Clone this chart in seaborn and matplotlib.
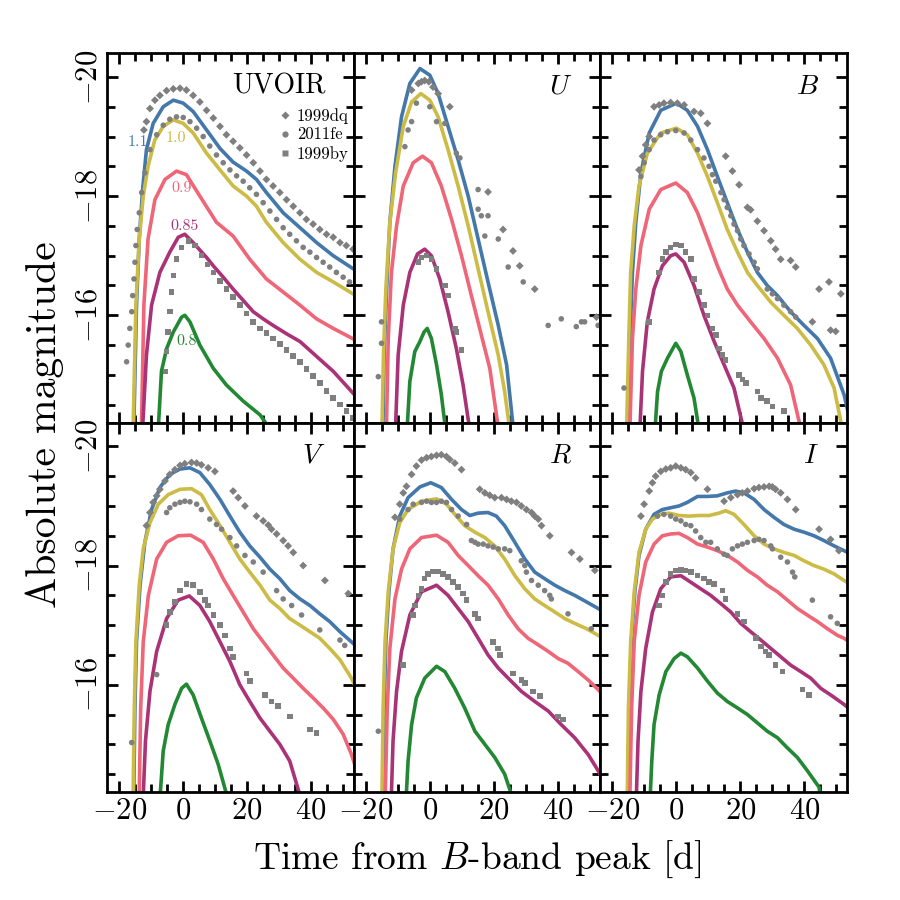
import matplotlib
matplotlib.use("Agg")
import matplotlib.pyplot as plt
import pandas as pd
import seaborn as sns
from matplotlib.ticker import MultipleLocator
from matplotlib.lines import Line2D

# ---------------- model light curves (day, absolute magnitude) ----------------
UVOIR_11 = [(-15.5,-14.0),(-14.6,-16.17),(-13.75,-17.28),(-12.7,-18.11),(-11.5,-18.78),(-9.4,-19.22),(-6.25,-19.5),(-3.1,-19.61),(0,-19.56),(3.1,-19.42),(7.3,-19.11),(11.5,-18.8),(15.6,-18.57),(19.8,-18.42),(22.9,-18.28),(26,-18.06),(31.25,-17.72),(36.5,-17.47),(41.7,-17.22),(46.9,-17.0),(54,-16.75)]
UVOIR_10 = [(-15.7,-14.0),(-14.8,-16.17),(-13.75,-17.28),(-12.5,-18.0),(-11,-18.5),(-8.9,-18.94),(-6.25,-19.17),(-3.1,-19.28),(0,-19.22),(3.1,-19.06),(7.3,-18.72),(11.5,-18.44),(15.6,-18.17),(19.8,-18.0),(22.9,-17.83),(26,-17.56),(31.25,-17.22),(36.5,-16.94),(41.7,-16.72),(46.9,-16.56),(54,-16.33)]
UVOIR_09 = [(-13.1,-14.0),(-12.3,-16.17),(-11,-17.28),(-8.85,-17.94),(-5.7,-18.28),(-2.1,-18.42),(1.0,-18.36),(5.2,-18.0),(10.4,-17.56),(15.6,-17.33),(20.8,-16.94),(26,-16.61),(31.25,-16.39),(36.5,-16.17),(41.7,-15.94),(46.9,-15.78),(54,-15.58)]
UVOIR_085 = [(-12.8,-14.0),(-11.5,-15.33),(-9.9,-16.17),(-7.3,-16.72),(-4.2,-17.06),(-1.56,-17.31),(0.5,-17.36),(3.1,-17.22),(7.3,-16.97),(9.4,-16.83),(12.5,-16.64),(15.6,-16.44),(18.75,-16.25),(21.9,-16.06),(25,-15.94),(28.1,-15.83),(32.3,-15.69),(36.5,-15.56),(41.7,-15.31),(46.9,-15.06),(54,-14.64)]
UVOIR_08 = [(-7.9,-14.0),(-6.8,-15.06),(-5.2,-15.44),(-3.1,-15.72),(-0.5,-15.97),(0.5,-16.0),(2.1,-15.89),(5.2,-15.5),(9.4,-15.11),(13.5,-14.83),(18.75,-14.56),(24,-14.33),(27,-14.1),(28,-14.0)]

U_11 = [(-14.7,-14.0),(-14.3,-15.33),(-13.5,-16.44),(-12.5,-17.56),(-10.9,-18.5),(-8.85,-19.33),(-6.25,-19.89),(-3.1,-20.14),(0,-20.03),(2.6,-19.72),(5.7,-19.17),(8.85,-18.61),(12,-18.0),(15.1,-17.28),(18.2,-16.56),(21.4,-15.83),(24,-15.17),(26.3,-14.0)]
U_10 = [(-15.0,-14.0),(-14.5,-15.33),(-13.75,-16.44),(-12.5,-17.56),(-10.7,-18.39),(-8.3,-19.17),(-5.7,-19.58),(-2.8,-19.72),(0,-19.61),(2.6,-19.33),(5.7,-18.78),(8.85,-18.17),(12,-17.5),(15.1,-16.78),(18.2,-16.06),(21.4,-15.33),(23.4,-14.72),(25.2,-14.0)]
U_09 = [(-13.6,-14.0),(-13,-15.61),(-12,-16.72),(-10.4,-17.5),(-8.3,-18.17),(-5.2,-18.56),(-2.3,-18.67),(0.5,-18.56),(3.6,-18.17),(6.8,-17.61),(9.9,-17.0),(13,-16.33),(16.1,-15.67),(18.75,-15.11),(21.7,-14.0)]
U_085 = [(-10.8,-14.0),(-9.9,-15.33),(-8.3,-16.17),(-6.25,-16.72),(-3.85,-17.03),(-1.6,-17.11),(0.5,-17.0),(3.1,-16.61),(5.7,-16.06),(8.3,-15.44),(10.4,-14.83),(12.7,-14.0)]
U_08 = [(-7.2,-14.0),(-6.25,-14.89),(-4.7,-15.39),(-3.1,-15.56),(-1.8,-15.72),(-0.8,-15.78),(0.5,-15.61),(2.1,-15.17),(3.6,-14.67),(5.1,-14.0)]

B_11 = [(-15.2,-14.0),(-14.5,-15.61),(-13.75,-16.72),(-12.7,-17.56),(-11.1,-18.39),(-8.5,-19.06),(-4.9,-19.44),(0,-19.56),(3.4,-19.44),(6.6,-19.17),(9.7,-18.78),(12.8,-18.33),(15.9,-17.89),(19.1,-17.44),(22.2,-17.06),(25.3,-16.72),(28.4,-16.5),(31.6,-16.33),(35.7,-16.06),(39.9,-15.83),(44.1,-15.61),(48.2,-15.28),(52.4,-14.67),(54,-14.3)]
B_10 = [(-15.6,-14.0),(-14.9,-15.61),(-14.3,-16.72),(-13.2,-17.5),(-11.7,-18.17),(-9.1,-18.72),(-4.9,-19.06),(0,-19.14),(3.4,-19.03),(6.6,-18.72),(9.7,-18.33),(12.8,-17.89),(15.9,-17.44),(19.1,-17.06),(22.2,-16.72),(25.3,-16.5),(29.5,-16.22),(33.6,-16.0),(37.8,-15.78),(42,-15.5),(46.1,-15.17),(49.3,-14.78),(52.2,-14.0)]
B_09 = [(-14.6,-14.0),(-13.75,-15.61),(-12.7,-16.44),(-11.1,-17.17),(-8.5,-17.78),(-4.9,-18.11),(-0.2,-18.22),(3.4,-18.06),(6.6,-17.72),(9.7,-17.28),(12.8,-16.83),(15.9,-16.44),(19.1,-16.17),(23.2,-15.89),(27.4,-15.61),(31.6,-15.28),(35.7,-14.83),(39.3,-14.0)]
B_085 = [(-11.5,-14.0),(-10.6,-15.06),(-9.1,-15.89),(-7.0,-16.44),(-4.4,-16.83),(-1.8,-17.0),(-0.2,-17.03),(2.4,-16.89),(5.5,-16.5),(8.6,-16.0),(11.8,-15.56),(14.9,-15.17),(18,-14.78),(21.4,-14.0)]
B_08 = [(-6.8,-14.0),(-5.9,-14.72),(-4.7,-15.06),(-2.8,-15.28),(-0.2,-15.53),(1.4,-15.39),(3.4,-15.0),(5.5,-14.61),(7.3,-14.0)]

V_11 = [(-15.5,-14.0),(-15.1,-15.61),(-14.6,-16.72),(-13.5,-17.67),(-12.0,-18.39),(-9.9,-18.94),(-7.3,-19.31),(-4.2,-19.53),(-1.0,-19.62),(2.1,-19.64),(5.2,-19.56),(8.3,-19.36),(11.5,-19.11),(14.6,-18.83),(17.7,-18.56),(20.8,-18.33),(24,-18.14),(27.1,-17.94),(30.2,-17.78),(33.3,-17.58),(36.5,-17.44),(39.6,-17.33),(42.7,-17.19),(45.8,-17.06),(49,-16.89),(52.6,-16.72),(54,-16.65)]
V_10 = [(-15.7,-14.0),(-15.3,-15.61),(-14.8,-16.72),(-13.75,-17.67),(-12.5,-18.28),(-10.4,-18.72),(-7.8,-19.03),(-4.7,-19.19),(-1.0,-19.28),(2.6,-19.29),(5.7,-19.19),(8.3,-18.94),(11.5,-18.67),(14.6,-18.39),(17.7,-18.11),(20.8,-17.89),(24,-17.67),(27.1,-17.42),(30.2,-17.28),(33.3,-17.11),(36.5,-17.0),(39.6,-16.89),(42.7,-16.78),(45.8,-16.61),(49,-16.42),(52.6,-16.11),(54,-15.95)]
V_09 = [(-13.8,-14.0),(-13.3,-15.61),(-12.5,-16.72),(-10.9,-17.5),(-8.3,-18.11),(-5.2,-18.39),(-1.6,-18.5),(2.3,-18.51),(6.25,-18.39),(9.4,-18.11),(12.5,-17.78),(15.6,-17.5),(18.75,-17.22),(21.9,-16.94),(25,-16.72),(28.1,-16.5),(31.25,-16.28),(34.4,-16.11),(37.5,-15.94),(40.6,-15.78),(43.75,-15.61),(46.9,-15.42),(50,-15.17),(52.6,-14.83),(54,-14.6)]
V_085 = [(-12.6,-14.0),(-11.8,-15.06),(-10.4,-15.89),(-8.3,-16.56),(-5.2,-17.11),(-1.6,-17.42),(1.9,-17.49),(5.2,-17.33),(8.3,-17.06),(11.5,-16.72),(14.6,-16.39),(17.7,-16.0),(20.8,-15.72),(24,-15.44),(27.1,-15.22),(30.2,-15.0),(33.3,-14.72),(37.3,-14.0)]
V_08 = [(-7.4,-14.0),(-6.25,-14.89),(-4.7,-15.33),(-2.6,-15.67),(-0.5,-15.94),(1.0,-16.01),(3.1,-15.83),(5.7,-15.44),(8.3,-15.06),(10.9,-14.67),(14.4,-14.0)]

R_11 = [(-14.7,-14.0),(-14.3,-15.61),(-13.75,-16.72),(-12.8,-17.56),(-11.5,-18.28),(-9.4,-18.83),(-6.8,-19.14),(-3.1,-19.32),(0.3,-19.39),(3.6,-19.31),(6.8,-19.11),(9.9,-18.94),(12.5,-18.84),(15.1,-18.88),(18.2,-18.89),(20.8,-18.83),(23.4,-18.67),(26.6,-18.39),(29.7,-18.11),(32.8,-17.89),(35.9,-17.78),(39.1,-17.67),(42.2,-17.58),(45.3,-17.5),(49,-17.39),(52.6,-17.28),(54,-17.24)]
R_10 = [(-15.0,-14.0),(-14.6,-15.61),(-14.0,-16.72),(-13,-17.56),(-11.5,-18.28),(-9.4,-18.72),(-6.8,-18.94),(-2.6,-19.08),(2.1,-19.12),(5.2,-19.03),(8.3,-18.83),(10.9,-18.67),(14.1,-18.56),(17.2,-18.47),(20.3,-18.33),(23.4,-18.11),(26.6,-17.83),(29.7,-17.61),(32.8,-17.44),(35.9,-17.33),(39.1,-17.22),(42.2,-17.11),(45.3,-17.03),(49,-16.94),(52.6,-16.83),(54,-16.79)]
R_09 = [(-14.0,-14.0),(-13.3,-15.61),(-12.5,-16.61),(-10.9,-17.44),(-8.85,-17.94),(-6.25,-18.28),(-2.6,-18.47),(2.1,-18.51),(5.7,-18.39),(8.85,-18.17),(12,-18.0),(15.1,-17.83),(18.2,-17.67),(21.4,-17.44),(24.5,-17.17),(27.6,-16.94),(30.7,-16.78),(33.9,-16.67),(37,-16.56),(40.1,-16.44),(43.2,-16.36),(46.4,-16.22),(49.5,-16.08),(52.6,-15.92),(54,-15.84)]
R_085 = [(-12.1,-14.0),(-11.5,-15.06),(-10.4,-15.89),(-8.85,-16.56),(-6.25,-17.17),(-2.6,-17.56),(2.1,-17.67),(5.7,-17.5),(8.85,-17.28),(12,-17.06),(15.1,-16.78),(18.2,-16.5),(21.4,-16.28),(24.5,-16.11),(28.6,-15.89),(32.8,-15.72),(37,-15.56),(41.1,-15.33),(45.3,-15.11),(49.5,-14.83),(52.6,-14.56),(54,-14.42)]
R_08 = [(-7.5,-14.0),(-6.8,-14.72),(-5.7,-15.33),(-4.2,-15.78),(-1.6,-16.11),(2.1,-16.31),(4.7,-16.22),(7.8,-15.94),(10.9,-15.61),(14.1,-15.22),(17.2,-15.0),(20.3,-14.78),(23.4,-14.5),(26.5,-14.0)]

I_11 = [(-15.2,-14.0),(-14.8,-15.61),(-14.1,-16.72),(-13,-17.56),(-11.7,-18.17),(-9.6,-18.61),(-7.0,-18.86),(-4.4,-18.94),(-1.8,-18.97),(0.8,-19.0),(3.4,-19.06),(6.6,-19.16),(9.7,-19.16),(12.8,-19.17),(15.9,-19.22),(18.5,-19.25),(21.1,-19.22),(24.3,-19.11),(27.4,-18.94),(30.5,-18.81),(33.6,-18.69),(36.8,-18.61),(39.9,-18.56),(43,-18.5),(46.1,-18.42),(49.3,-18.33),(52.4,-18.25),(54,-18.21)]
I_10 = [(-15.4,-14.0),(-15.0,-15.61),(-14.3,-16.72),(-13.2,-17.56),(-11.7,-18.22),(-9.6,-18.61),(-7.5,-18.78),(-4.9,-18.86),(-2.3,-18.88),(0.8,-18.84),(4.0,-18.83),(7.1,-18.84),(10.2,-18.84),(13.3,-18.88),(15.4,-18.92),(18,-18.86),(21.1,-18.69),(24.3,-18.5),(27.4,-18.36),(30.5,-18.28),(33.6,-18.22),(36.8,-18.17),(39.9,-18.08),(43,-18.0),(46.1,-17.94),(49.3,-17.86),(52.4,-17.75),(54,-17.7)]
I_09 = [(-14.6,-14.0),(-14.0,-15.61),(-13.2,-16.72),(-11.7,-17.5),(-9.6,-18.06),(-7.0,-18.36),(-4.4,-18.5),(-1.8,-18.53),(0.8,-18.54),(3.4,-18.47),(6.6,-18.36),(9.7,-18.31),(12.8,-18.25),(15.9,-18.17),(19.1,-18.06),(22.2,-17.92),(25.3,-17.81),(28.4,-17.67),(31.6,-17.56),(34.7,-17.42),(37.8,-17.28),(40.9,-17.17),(44.1,-17.06),(47.2,-16.94),(50.3,-16.83),(52.4,-16.78),(54,-16.72)]
I_085 = [(-12.6,-14.0),(-12,-15.06),(-11.1,-15.89),(-9.6,-16.61),(-7.5,-17.22),(-4.9,-17.61),(-1.8,-17.81),(1.4,-17.83),(4.5,-17.72),(7.6,-17.61),(10.7,-17.5),(13.9,-17.36),(17,-17.22),(20.1,-17.03),(23.2,-16.89),(26.4,-16.75),(29.5,-16.61),(32.6,-16.47),(35.7,-16.33),(38.9,-16.22),(42,-16.11),(45.1,-15.94),(48.2,-15.83),(52.4,-15.67),(54,-15.6)]
I_08 = [(-8.3,-14.0),(-7.7,-14.72),(-7.0,-15.33),(-5.4,-15.83),(-3.3,-16.22),(-0.7,-16.44),(1.4,-16.53),(3.4,-16.47),(6.6,-16.28),(9.7,-16.06),(12.8,-15.86),(15.9,-15.72),(19.1,-15.61),(22.2,-15.5),(25.3,-15.36),(28.4,-15.22),(31.6,-15.11),(34.7,-14.94),(37.8,-14.78),(40.9,-14.56),(44.6,-14.28),(45.3,-14.0)]

# ---------------- observed SNe (day, absolute magnitude) ----------------
UVOIR_DQ = [(-12.3,-19.11),(-11.5,-19.25),(-10.4,-19.47),(-8.85,-19.61),(-7.3,-19.69),(-5.2,-19.77),(-3.1,-19.8),(-1.0,-19.81),(1.0,-19.78),(3.1,-19.69),(5.2,-19.58),(7.3,-19.44),(9.4,-19.31),(11.5,-19.17),(13.5,-19.03),(15.6,-18.92),(17.7,-18.81),(19.8,-18.69),(21.9,-18.56),(24.0,-18.42),(26.0,-18.28),(28.1,-18.17),(30.2,-18.06),(32.3,-17.94),(34.4,-17.83),(36.5,-17.72),(38.5,-17.61),(40.6,-17.53),(42.7,-17.44),(44.8,-17.36),(46.9,-17.31),(49.0,-17.22),(51.0,-17.17),(53.1,-17.11)]
UVOIR_FE = [(-17.7,-15.22),(-17.2,-15.5),(-16.7,-15.78),(-16.1,-16.06),(-15.8,-16.33),(-15.4,-16.61),(-15.1,-16.89),(-14.8,-17.17),(-14.4,-17.44),(-13.75,-17.72),(-13.0,-18.06),(-12.0,-18.39),(-10.4,-18.78),(-8.3,-19.03),(-6.25,-19.19),(-4.2,-19.29),(-2.1,-19.33),(0.0,-19.32),(2.1,-19.25),(4.2,-19.14),(6.25,-19.0),(8.3,-18.84),(10.4,-18.69),(12.5,-18.56),(14.6,-18.44),(16.7,-18.34),(18.75,-18.25),(20.8,-18.14),(22.9,-18.03),(25.0,-17.89),(27.1,-17.75),(29.2,-17.61),(31.25,-17.47),(33.3,-17.36),(35.4,-17.25),(37.5,-17.14),(39.6,-17.06),(41.7,-16.97),(43.75,-16.89),(45.8,-16.81),(47.9,-16.72),(50.0,-16.64),(52.0,-16.56)]
UVOIR_BY = [(-5.5,-15.06),(-5.2,-15.39),(-4.7,-15.72),(-4.2,-16.06),(-3.6,-16.39),(-3.1,-16.67),(-2.1,-16.94),(-0.5,-17.14),(1.6,-17.25),(3.6,-17.17),(5.7,-17.0),(7.6,-16.85),(9.4,-16.72),(11.5,-16.58),(13.5,-16.44),(15.6,-16.31),(17.7,-16.17),(19.8,-16.03),(21.9,-15.89),(24.0,-15.78),(26.0,-15.7),(28.1,-15.61),(30.2,-15.52),(32.3,-15.42),(34.4,-15.32),(36.5,-15.22),(38.5,-15.1),(40.6,-14.98),(42.7,-14.86),(44.8,-14.73),(46.9,-14.61),(49.0,-14.5),(51.0,-14.39),(53.1,-14.28)]

U_DQ = [(-5.7,-19.78),(-3.6,-19.89),(-2.6,-19.92),(-1.6,-19.94),(-0.3,-19.92),(1.0,-19.83),(2.6,-19.72),(6.25,-19.5),(18.2,-18.07),(22.9,-17.44),(26.0,-17.08),(28.1,-16.83),(32.8,-16.44),(52.1,-15.97)]
U_FE = [(-16.1,-14.97),(-15.1,-15.53),(-15.1,-15.89),(-7.8,-18.83),(-6.8,-19.11),(-5.7,-19.25),(-4.2,-19.56),(0,-19.5),(2.1,-19.25),(4.7,-19.22),(8.3,-18.72),(9.4,-18.64),(15.1,-18.11),(15.1,-17.78),(16.1,-17.67),(18.2,-17.67),(17.2,-17.33),(21.4,-17.28),(24.5,-16.81),(29.2,-16.56),(37.0,-15.83),(41.1,-15.94),(45.8,-15.81),(47.4,-15.89),(48.4,-15.89),(52.6,-15.83)]
U_BY = [(-3.6,-16.89),(-2.6,-16.97),(-1.0,-17.0),(0.5,-16.94),(2.1,-16.78),(4.7,-16.5),(5.7,-16.33),(7.8,-15.78),(8.3,-15.72),(9.9,-15.42)]

B_DQ = [(-11.7,-18.44),(-10.6,-18.67),(-9.6,-18.86),(-8.5,-19.0),(-7.0,-19.5),(-5.4,-19.53),(-3.9,-19.56),(-1.8,-19.57),(0.3,-19.56),(2.4,-19.53),(5.5,-19.42),(7.6,-19.39),(9.7,-19.22),(15.4,-18.67),(17.5,-18.42),(19.6,-18.19),(22.2,-17.81),(23.2,-17.77),(25.3,-17.58),(27.4,-17.42),(29.5,-17.25),(31.0,-17.11),(32.6,-16.94),(35.7,-16.92),(37.3,-16.81),(42.5,-15.89),(44.6,-16.44),(47.7,-16.56),(48.2,-15.75),(49.8,-15.73),(51.4,-16.36)]
B_FE = [(-16.4,-14.78),(-11.1,-18.33),(-10.1,-18.56),(-8.5,-18.78),(-7.0,-18.94),(-4.9,-19.03),(-2.8,-19.08),(-0.2,-19.1),(2.4,-19.06),(4.5,-18.94),(6.6,-18.78),(8.6,-18.64),(10.2,-18.5),(11.25,-18.36),(12.3,-18.25),(13.9,-18.06),(14.9,-17.94),(15.9,-17.81),(17.0,-17.67),(18.0,-17.53),(19.1,-17.42),(20.1,-17.28),(21.1,-17.17),(22.7,-17.03),(24.3,-16.89),(25.3,-16.78),(28.4,-16.44),(30.0,-16.36),(31.6,-16.28),(33.6,-16.17),(35.7,-16.06),(37.3,-15.97)]
B_BY = [(-8.5,-15.89),(-5.4,-16.72),(-4.4,-16.94),(-3.3,-17.06),(-1.8,-17.14),(-0.2,-17.19),(1.4,-17.17),(2.9,-17.06),(4.5,-16.94),(5.5,-16.61),(7.1,-16.39),(8.6,-16.17),(9.7,-16.0),(11.25,-15.78),(12.3,-15.67),(13.3,-15.44),(14.4,-15.33),(15.4,-15.25),(19.6,-15.0),(20.6,-14.92),(21.7,-14.86),(25.3,-14.72),(26.4,-14.61),(28.4,-14.56),(30.0,-14.47),(33.6,-14.39)]

V_DQ = [(-11.5,-18.67),(-10.4,-18.89),(-9.4,-19.06),(-8.3,-19.17),(-7.3,-19.28),(-5.7,-19.42),(-4.2,-19.53),(-2.6,-19.61),(-1.0,-19.68),(0.5,-19.71),(2.6,-19.73),(4.2,-19.72),(5.7,-19.69),(7.8,-19.64),(9.9,-19.58),(15.6,-19.25),(17.2,-19.14),(19.3,-19.0),(22.9,-18.83),(25.0,-18.75),(26.6,-18.68),(27.6,-18.61),(29.2,-18.53),(31.25,-18.42),(32.8,-18.33),(34.4,-18.22),(37.5,-18.0),(44.3,-17.75),(51.6,-17.53)]
V_FE = [(-16.1,-15.03),(-8.3,-16.17),(-5.2,-18.89),(-4.2,-18.97),(-2.6,-19.03),(-1.0,-19.06),(0.5,-19.08),(2.1,-19.07),(4.2,-19.03),(5.7,-18.94),(8.3,-18.78),(10.4,-18.69),(12.0,-18.61),(14.6,-18.47),(16.7,-18.33),(19.3,-18.17),(21.9,-18.06),(25.0,-17.89),(29.2,-17.58),(31.25,-17.44),(33.9,-17.33),(37.0,-17.17),(42.7,-16.92),(49.0,-16.75),(50.5,-16.66)]
V_BY = [(-5.2,-17.0),(-4.2,-17.22),(-2.6,-17.39),(-1.0,-17.58),(1.0,-17.69),(3.1,-17.67),(5.2,-17.56),(6.8,-17.42),(7.8,-17.33),(9.4,-17.17),(11.5,-17.0),(13.0,-16.83),(14.6,-16.61),(15.6,-16.47),(19.8,-16.19),(20.8,-16.06),(25.5,-15.83),(27.6,-15.72),(29.7,-15.64),(33.3,-15.47),(39.6,-15.25),(41.7,-15.19)]

R_DQ = [(-10.9,-18.81),(-9.4,-19.03),(-8.3,-19.22),(-7.3,-19.33),(-5.7,-19.53),(-4.2,-19.67),(-2.6,-19.77),(-1.0,-19.81),(0.5,-19.83),(2.1,-19.85),(3.6,-19.86),(5.2,-19.83),(6.25,-19.78),(7.8,-19.72),(9.9,-19.61),(15.6,-19.28),(17.2,-19.22),(18.75,-19.18),(20.3,-19.14),(22.4,-19.14),(24.0,-19.11),(25.5,-19.08),(27.1,-19.06),(28.6,-19.0),(30.2,-18.94),(31.8,-18.89),(32.8,-18.83),(33.9,-18.78),(34.9,-18.67),(37.5,-18.5),(44.3,-18.22),(46.9,-18.11),(51.6,-17.92)]
R_FE = [(-16.1,-15.22),(-9.4,-18.78),(-6.8,-18.94),(-5.2,-19.03),(-2.6,-19.06),(-1.0,-19.08),(0.5,-19.06),(2.1,-19.06),(3.6,-19.08),(5.2,-19.06),(6.8,-18.94),(8.85,-18.83),(11.5,-18.69),(13.0,-18.42),(14.1,-18.39),(15.1,-18.36),(16.7,-18.36),(18.2,-18.33),(19.8,-18.31),(21.4,-18.28),(23.4,-18.28),(25.0,-18.25),(28.6,-18.08),(29.7,-18.0),(30.2,-17.89),(31.8,-17.75),(33.9,-17.67),(35.9,-17.58),(37.5,-17.5),(38.0,-17.44),(43.2,-17.19),(50.5,-16.94)]
R_BY = [(-8.3,-16.33),(-5.2,-17.17),(-4.7,-17.33),(-3.6,-17.5),(-2.6,-17.61),(-1.6,-17.78),(-0.5,-17.86),(1.0,-17.9),(2.6,-17.9),(4.2,-17.86),(5.7,-17.81),(7.3,-17.72),(8.85,-17.64),(10.4,-17.53),(11.5,-17.42),(14.1,-17.19),(15.1,-17.11),(19.8,-16.72),(21.4,-16.61),(21.9,-16.5),(26.0,-16.19),(28.6,-16.08),(29.7,-16.03),(32.3,-15.89),(34.4,-15.81),(40.1,-15.47),(41.7,-15.42)]

I_DQ = [(-11.1,-18.83),(-10.1,-19.03),(-8.5,-19.25),(-7.5,-19.39),(-6.5,-19.5),(-4.9,-19.58),(-3.3,-19.62),(-1.8,-19.64),(-0.2,-19.67),(1.4,-19.64),(2.9,-19.61),(4.5,-19.56),(6.0,-19.47),(9.7,-19.28),(14.9,-19.08),(17.0,-19.14),(19.1,-19.19),(20.6,-19.22),(22.2,-19.25),(24.3,-19.29),(25.8,-19.31),(27.4,-19.32),(29.0,-19.33),(30.0,-19.32),(31.0,-19.28),(32.6,-19.22),(34.7,-19.11),(37.3,-18.94),(44.6,-18.61),(48.2,-18.44),(50.8,-18.25)]
I_FE = [(-5.9,-18.83),(-3.9,-18.86),(-1.8,-18.83),(-0.2,-18.78),(1.4,-18.75),(2.9,-18.69),(4.5,-18.67),(6.0,-18.58),(7.6,-18.47),(9.2,-18.39),(10.7,-18.39),(12.8,-18.28),(14.9,-18.19),(15.9,-18.17),(17.5,-18.28),(19.1,-18.33),(20.6,-18.36),(22.2,-18.39),(24.3,-18.42),(25.8,-18.44),(27.4,-18.42),(29.5,-18.33),(30.0,-18.28),(32.6,-18.14),(34.7,-18.06),(36.3,-17.89),(37.0,-17.81),(42.5,-17.42),(48.2,-17.14),(50.3,-17.03)]
I_BY = [(-5.4,-17.33),(-4.4,-17.5),(-3.3,-17.72),(-1.8,-17.86),(-0.2,-17.92),(1.4,-17.93),(2.9,-17.92),(4.5,-17.89),(6.6,-17.83),(8.6,-17.78),(10.2,-17.72),(11.8,-17.69),(14.4,-17.58),(15.4,-17.44),(19.1,-17.19),(21.1,-17.06),(24.8,-16.78),(26.4,-16.64),(27.9,-16.56),(29.0,-16.5),(31.0,-16.33),(33.1,-16.22),(39.4,-15.92),(41.5,-15.83)]

# ---------------- labels / categories ----------------
MODELS = ["1.1", "1.0", "0.9", "0.85", "0.8"]
SNE = ["1999dq", "2011fe", "1999by"]
PANELS = ["UVOIR", "U", "B", "V", "R", "I"]
PANEL_TITLES = ["UVOIR", "$U$", "$B$", "$V$", "$R$", "$I$"]

MODEL_DATA = {
    "UVOIR": [UVOIR_11, UVOIR_10, UVOIR_09, UVOIR_085, UVOIR_08],
    "U": [U_11, U_10, U_09, U_085, U_08],
    "B": [B_11, B_10, B_09, B_085, B_08],
    "V": [V_11, V_10, V_09, V_085, V_08],
    "R": [R_11, R_10, R_09, R_085, R_08],
    "I": [I_11, I_10, I_09, I_085, I_08],
}
OBS_DATA = {
    "UVOIR": [UVOIR_DQ, UVOIR_FE, UVOIR_BY],
    "U": [U_DQ, U_FE, U_BY],
    "B": [B_DQ, B_FE, B_BY],
    "V": [V_DQ, V_FE, V_BY],
    "R": [R_DQ, R_FE, R_BY],
    "I": [I_DQ, I_FE, I_BY],
}

COLORS = ["#4477AA", "#CCBB44", "#EE6677", "#AA3377", "#228833"]
MARKERS = {"1999dq": "D", "2011fe": "o", "1999by": "s"}
GRAY = "#7f7f7f"

# model labels placed in the UVOIR panel (day, mag)
ANNOT = [("1.1", -14.1, -18.9), ("1.0", -2.2, -18.98), ("0.9", -0.6, -18.14),
         ("0.85", 0.3, -17.49), ("0.8", 0.9, -15.56)]

# ---------------- style ----------------
sns.set_style("ticks")
plt.rcParams.update({
    "font.family": "serif",
    "font.serif": ["cmr10"],
    "mathtext.fontset": "cm",
    "axes.formatter.use_mathtext": True,
    "axes.linewidth": 2.0,
    "axes.edgecolor": "black",
    "xtick.color": "black",
    "ytick.color": "black",
    "text.color": "black",
    "axes.labelcolor": "black",
    "axes.unicode_minus": True,
})

fig, axes = plt.subplots(2, 3, figsize=(9, 9), dpi=100, sharex=True, sharey=True)
fig.subplots_adjust(left=0.119, right=0.941, bottom=0.12, top=0.941, wspace=0, hspace=0)

palette = dict(zip(MODELS, COLORS))

for ax, band, title in zip(axes.flat, PANELS, PANEL_TITLES):
    rows = []
    for m, pts in zip(MODELS, MODEL_DATA[band]):
        for t, mag in pts:
            rows.append((m, t, mag))
    df = pd.DataFrame(rows, columns=["model", "t", "mag"])
    sns.lineplot(data=df, x="t", y="mag", hue="model", hue_order=MODELS,
                 palette=palette, sort=False, estimator=None, lw=2.6,
                 legend=False, ax=ax, zorder=2)

    orows = []
    for sn, pts in zip(SNE, OBS_DATA[band]):
        for t, mag in pts:
            orows.append((sn, t, mag))
    odf = pd.DataFrame(orows, columns=["sn", "t", "mag"])
    sns.scatterplot(data=odf, x="t", y="mag", style="sn", style_order=SNE,
                    markers=MARKERS, color=GRAY, s=16, linewidth=0,
                    legend=False, ax=ax, zorder=3)

    ax.set_xlabel("")
    ax.set_ylabel("")
    ax.text(0.885, 0.91, title, transform=ax.transAxes, ha="right", va="center",
            fontsize=20)

    ax.xaxis.set_major_locator(MultipleLocator(20))
    ax.xaxis.set_minor_locator(MultipleLocator(5))
    ax.yaxis.set_major_locator(MultipleLocator(2))
    ax.yaxis.set_minor_locator(MultipleLocator(0.5))
    ax.tick_params(which="both", direction="in", top=True, right=True,
                   width=2.0, labelsize=22)
    ax.tick_params(which="major", length=8)
    ax.tick_params(which="minor", length=6)
    ax.tick_params(axis="y", labelrotation=90)
    for lab in ax.get_yticklabels():
        lab.set_va("center")

axes[0, 0].set_xlim(-23.8, 53.3)
axes[0, 0].set_ylim(-14.2, -20.4)

ax0 = axes[0, 0]
for txt, t, mag in ANNOT:
    ax0.text(t, mag, txt, color=palette[txt], fontsize=11.5, ha="center",
             va="center", zorder=5)

handles = [Line2D([], [], ls="", marker=MARKERS[s], color=GRAY, mec="none",
                  ms=4.5 if s != "1999dq" else 4) for s in SNE]
ax0.legend(handles, SNE, loc="upper right", bbox_to_anchor=(1.0, 0.865),
           frameon=False, fontsize=12, handlelength=0.7, handletextpad=0.35,
           labelspacing=0.2, borderaxespad=0.2, borderpad=0.1)

fig.text(0.05, 0.528, "Absolute magnitude", rotation=90, ha="center",
         va="center", fontsize=30)
fig.text(0.53, 0.045, "Time from $B$-band peak [d]", ha="center", va="center",
         fontsize=27)

fig.savefig("out.png", dpi=100)
